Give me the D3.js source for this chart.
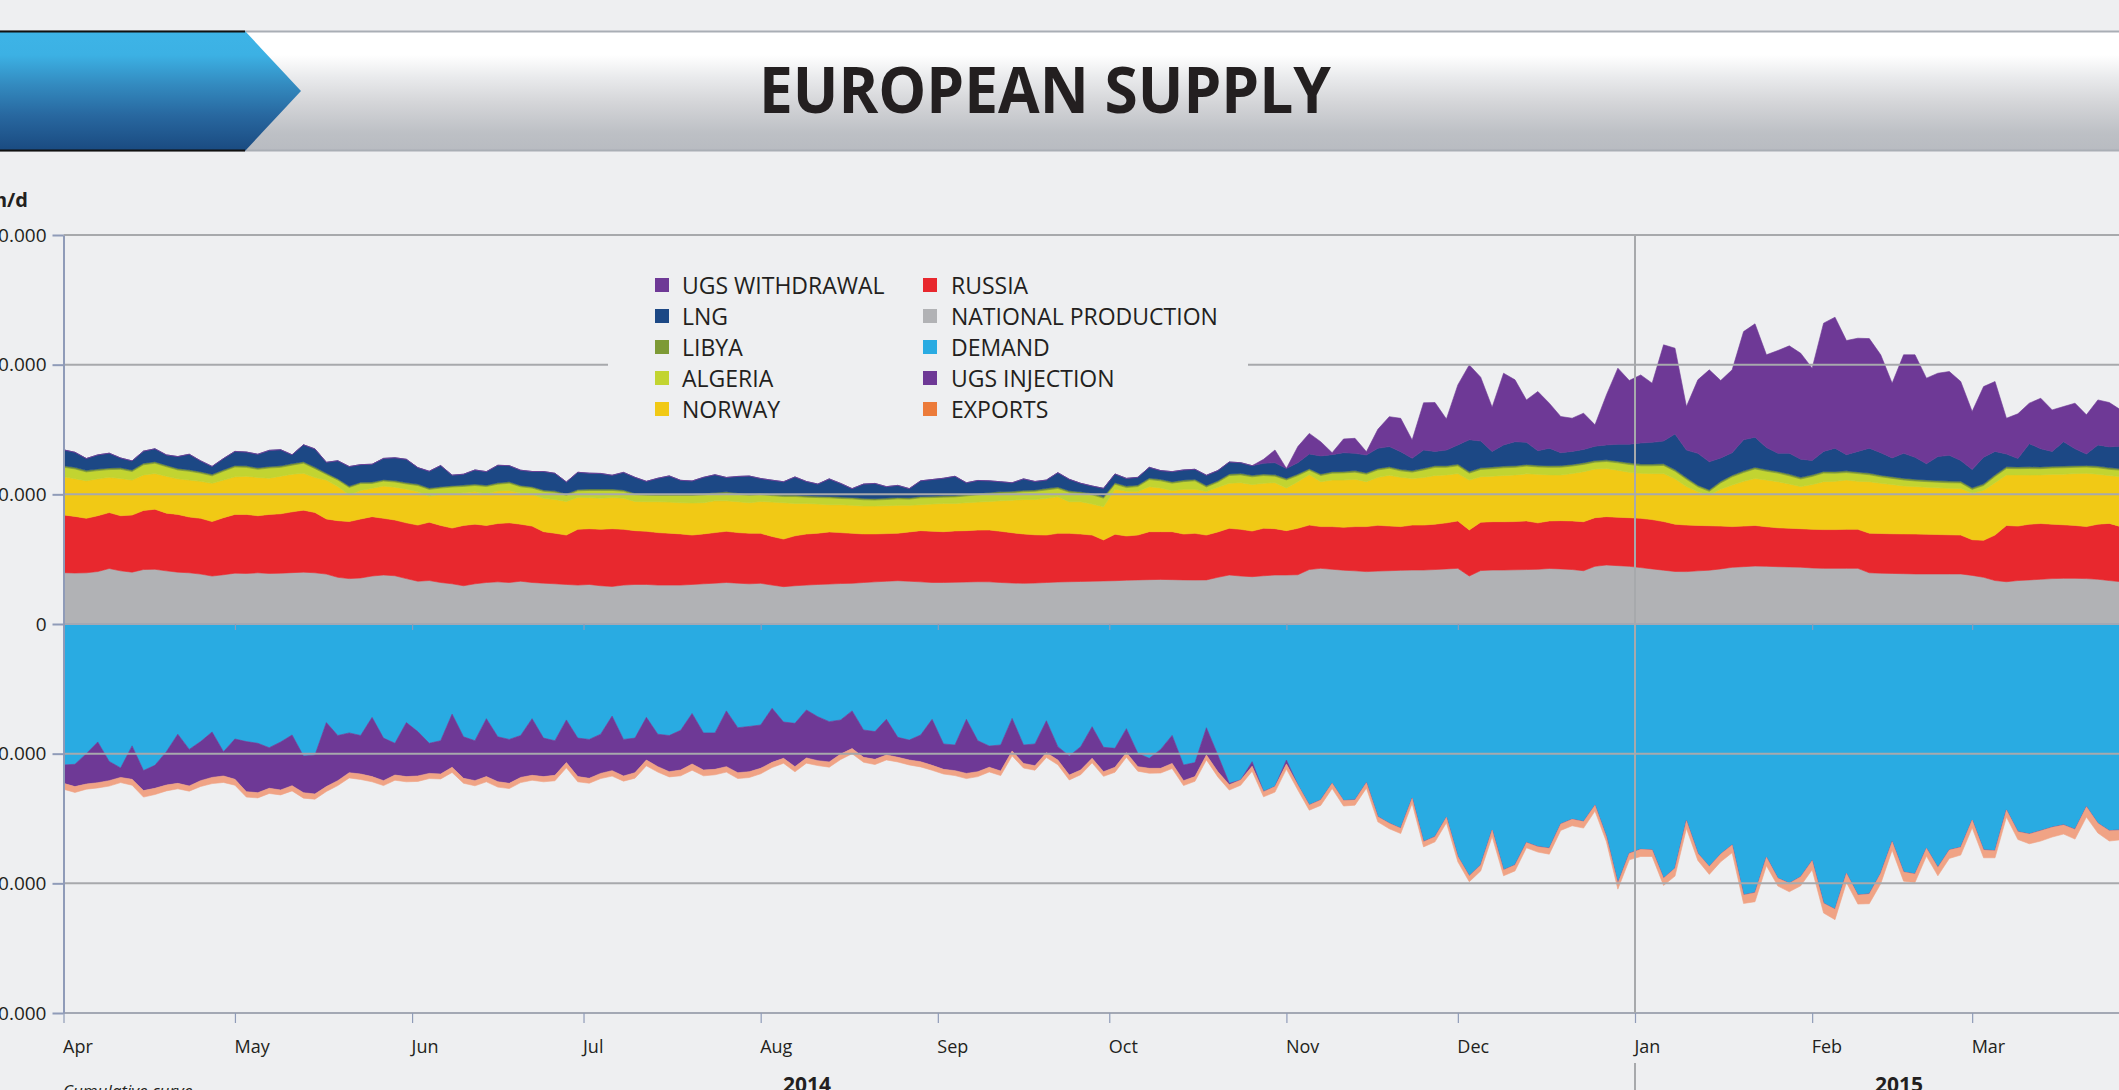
<!DOCTYPE html>
<html><head><meta charset="utf-8">
<script src="https://cdn.jsdelivr.net/npm/d3@7"></script>
<style>
html,body{margin:0;padding:0;background:#eeeff1;overflow:hidden;}
svg{display:block;}
</style></head>
<body>
<svg id="chart" width="2119" height="1090"></svg>
<script>
// ---------------- DATA (thousand units/day, one value every 2 days from 1 Apr 2014) ----------------
const START_DATE = new Date(2014, 3, 1);
const STEP_DAYS = 2;

const nationalProduction = [
3.96,3.93,3.95,4.05,4.28,4.1,4.0,4.2,4.22,4.1, 4.0,3.95,3.85,3.7,3.8,3.92,3.9,3.95,3.9,3.92, 3.96,4.0,3.95,3.85,3.6,3.5,3.55,3.7,3.78,3.72, 3.5,3.3,3.35,3.2,3.1,2.95,3.1,3.2,3.25,3.2, 3.3,3.2,3.15,3.1,3.05,3.0,3.05,2.95,2.9,3.0, 3.05,3.05,3.0,3.0,3.0,3.05,3.1,3.15,3.2,3.15, 3.1,
3.14,3.0,2.88,2.95,3.0,3.05,3.08,3.12,3.14,3.2, 3.25,3.3,3.34,3.3,3.25,3.2,3.2,3.22,3.24,3.26, 3.25,3.2,3.16,3.14,3.16,
3.2,3.24,3.26,3.28,3.3, 3.32,3.34,3.38,3.4,3.42,3.44,3.42,3.4,3.39,3.4, 3.6,3.78,3.7,3.65,3.72,3.78,3.78,3.8,4.2,4.29, 4.22,4.15,4.1,4.04,4.08,4.11,4.14,4.16,
4.16,4.2,4.25,4.29,3.7,4.12,4.16,4.16,4.18,4.2, 4.22,4.28,4.25,4.2,4.11,4.45,4.55,4.5,4.45,4.35, 4.25,4.15,4.05,4.04,4.1,4.15,4.25,4.37,4.42,4.47, 4.45,4.42,4.4,4.38,4.32,4.29,4.29,4.29,4.29,3.95, 3.92,3.9,3.88,3.86,3.86,3.86,3.86,3.86,3.75,3.6, 3.35,3.26,3.35,3.4,3.45,3.5,3.52,3.52,3.5,3.45, 3.35,3.26];

const russia = [
4.45,4.37,4.2,4.3,4.31,4.25,4.4,4.55,4.63,4.45, 4.45,4.3,4.3,4.2,4.4,4.53,4.55,4.4,4.55,4.58, 4.69,4.78,4.65,4.25,4.37,4.4,4.55,4.58,4.37,4.3, 4.3,4.33,4.5,4.4,4.3,4.65,4.6,4.4,4.5,4.6, 4.4,4.35,3.97,3.9,3.81,4.3,4.3,4.35,4.45,4.3, 4.15,4.1,4.05,4.0,3.95,3.81,3.85,3.9,3.95,3.9, 3.9,
3.85,3.75,3.67,3.85,3.94,3.95,4.02,3.93,3.85,3.75, 3.7,3.67,3.66,3.8,3.95,3.95,3.92,3.96,3.96,3.98, 4.0,3.95,3.88,3.8,3.72,
3.66,3.75,3.73,3.66,3.56,3.16,3.58,3.41,3.46,3.7, 3.68,3.7,3.54,3.6,3.46,3.5,3.6,3.6,3.52,3.66, 3.57,3.42,3.58,3.43,3.22,3.29,3.31,3.41,3.47,3.53, 3.45,3.37,3.47,
3.47,3.5,3.55,3.66,3.55,3.73,3.73,3.73,3.72,3.75, 3.58,3.67,3.72,3.75,3.78,3.75,3.73,3.73,3.75,3.8, 3.8,3.75,3.65,3.59,3.5,3.43,3.3,3.14,3.13,3.13, 3.05,3.0,2.98,2.97,2.98,2.99,2.99,3.01,3.01,3.05, 3.06,3.06,3.07,3.08,3.06,3.04,3.02,3.0,2.75,2.85, 3.51,4.34,4.2,4.3,4.3,4.2,4.13,4.08,4.01,4.25, 4.41,4.25];

const norway = [
2.95,2.9,2.9,2.85,2.72,2.88,2.7,2.75,2.75,2.85, 2.75,2.85,2.85,2.95,2.9,2.9,2.95,2.95,2.8,2.9, 2.9,2.84,2.7,3.0,2.63,2.05,2.2,2.18,2.49,2.53, 2.6,2.57,2.0,2.4,2.65,2.53,2.5,2.45,2.5,2.48, 2.4,2.45,2.57,2.6,2.59,2.47,2.4,2.4,2.4,2.4, 2.25,2.28,2.38,2.4,2.4,2.47,2.41,2.45,2.35,2.38, 2.35,
2.46,2.65,2.8,2.5,2.36,2.25,2.1,2.15,2.16,2.15, 2.15,2.15,2.15,2.05,2.0,2.1,2.18,2.12,2.15,2.16, 2.2,2.35,2.51,2.66,2.72,
2.83,2.83,2.44,2.49,2.39,2.57,3.47,3.44,3.35,3.47, 3.37,3.16,3.45,3.4,3.35,3.44,3.47,3.6,3.58,3.47, 3.55,3.29,3.6,3.89,3.47,3.59,3.64,3.65,3.47,3.7, 3.91,3.8,3.6,
3.67,3.75,3.7,3.65,3.85,3.51,3.51,3.56,3.6,3.63, 3.75,3.55,3.52,3.65,3.86,3.75,3.72,3.62,3.5,3.47, 3.55,3.7,3.5,2.97,2.6,2.37,2.85,3.21,3.45,3.63, 3.6,3.56,3.42,3.25,3.45,3.7,3.72,3.8,3.7,3.98, 3.87,3.79,3.7,3.66,3.63,3.6,3.58,3.59,3.6,3.85, 4.04,3.89,3.95,3.79,3.75,3.85,3.9,4.0,4.11,3.85, 3.69,3.85];

const algeria = [
0.73,0.76,0.68,0.63,0.6,0.7,0.66,0.78,0.8,0.73, 0.68,0.68,0.63,0.58,0.68,0.76,0.68,0.63,0.78,0.68, 0.7,0.78,0.68,0.43,0.5,0.58,0.53,0.38,0.38,0.4, 0.4,0.48,0.53,0.48,0.51,0.48,0.48,0.55,0.53,0.58, 0.48,0.48,0.54,0.56,0.48,0.5,0.55,0.6,0.55,0.53, 0.53,0.5,0.48,0.51,0.56,0.58,0.6,0.53,0.58,0.57, 0.58,
0.53,0.5,0.48,0.53,0.48,0.5,0.53,0.48,0.5,0.48, 0.46,0.48,0.5,0.48,0.53,0.5,0.48,0.5,0.53,0.56, 0.58,0.6,0.58,0.6,0.63,
0.65,0.63,0.73,0.65,0.71,0.65,0.39,0.29,0.39,0.55, 0.55,0.58,0.59,0.65,0.36,0.39,0.6,0.6,0.6,0.6, 0.5,0.62,0.47,0.34,0.47,0.53,0.55,0.55,0.57,0.57, 0.54,0.5,0.48,
0.58,0.63,0.58,0.6,0.53,0.56,0.58,0.6,0.58,0.6, 0.56,0.58,0.6,0.58,0.56,0.53,0.53,0.58,0.6,0.58, 0.6,0.63,0.58,0.56,0.38,0.28,0.48,0.63,0.68,0.73, 0.68,0.66,0.63,0.58,0.63,0.66,0.63,0.58,0.6,0.53, 0.5,0.48,0.46,0.43,0.43,0.43,0.43,0.43,0.28,0.38, 0.48,0.5,0.48,0.5,0.48,0.48,0.5,0.48,0.48,0.5, 0.48,0.5];

const libya = [
0.12,0.12,0.12,0.12,0.12,0.12,0.12,0.12,0.12,0.12, 0.12,0.12,0.12,0.12,0.12,0.12,0.12,0.12,0.12,0.12, 0.12,0.12,0.12,0.11,0.11,0.11,0.11,0.11,0.11,0.11, 0.11,0.11,0.11,0.11,0.11,0.11,0.11,0.11,0.11,0.11, 0.11,0.11,0.11,0.11,0.11,0.11,0.11,0.11,0.11,0.11, 0.11,0.11,0.11,0.11,0.11,0.11,0.11,0.11,0.11,0.11, 0.11,
0.11,0.11,0.11,0.11,0.11,0.11,0.11,0.11,0.11,0.11, 0.11,0.11,0.11,0.11,0.11,0.11,0.11,0.11,0.11,0.11, 0.11,0.11,0.11,0.11,0.11,
0.12,0.12,0.12,0.12,0.12,0.12,0.12,0.12,0.12,0.12, 0.12,0.12,0.12,0.12,0.12,0.12,0.12,0.12,0.12,0.12, 0.12,0.12,0.12,0.12,0.12,0.12,0.12,0.12,0.12,0.12, 0.12,0.12,0.12,
0.13,0.13,0.13,0.13,0.13,0.13,0.13,0.13,0.13,0.13, 0.13,0.13,0.13,0.13,0.13,0.13,0.13,0.13,0.13,0.13, 0.13,0.13,0.13,0.13,0.13,0.13,0.13,0.13,0.13,0.13, 0.13,0.13,0.13,0.13,0.13,0.13,0.13,0.13,0.13,0.13, 0.13,0.13,0.13,0.13,0.13,0.13,0.13,0.13,0.13,0.13, 0.13,0.13,0.13,0.13,0.13,0.13,0.13,0.13,0.13,0.13, 0.13,0.13];

const lng = [
1.22,1.16,0.91,1.09,1.14,0.75,0.7,0.93,0.99,0.79, 0.91,1.19,0.83,0.6,0.86,1.08,1.06,1.04,1.24,1.24, 0.68,1.3,1.4,0.83,1.38,1.5,1.35,1.37,1.64,1.76, 1.79,1.27,1.29,1.63,0.81,0.83,1.09,1.04,1.35,1.24, 1.17,1.17,1.42,1.35,0.91,1.32,1.22,1.2,1.06,1.35, 1.22,0.96,1.22,1.4,1.06,1.01,1.24,1.37,1.11,1.27, 1.37,
1.13,1.08,1.03,1.4,1.1,0.93,1.35,1.05,0.68,1.1, 1.17,0.88,0.93,0.7,1.2,1.28,1.35,1.48,0.9,1.0, 0.9,0.76,0.65,0.88,0.65,
0.64,1.1,0.88,0.65,0.56,0.64,0.67,0.59,0.59,0.82, 0.67,0.77,0.78,0.77,0.78,0.78,0.92,0.82,0.74,0.82, 0.92,0.77,0.87,1.13,1.39,1.31,1.44,1.33,1.36,1.55, 1.55,1.36,0.95,
1.4,1.1,1.2,1.48,2.45,2.06,1.2,1.63,1.85,1.7, 1.12,1.35,0.99,1.0,1.02,1.1,1.15,1.3,1.43,1.63, 1.68,1.75,2.75,2.12,2.45,2.15,1.8,1.73,2.4,2.32, 1.7,1.4,1.61,1.4,1.1,1.54,1.8,1.25,1.58,1.92, 1.73,1.45,1.92,1.7,1.25,1.85,1.99,1.6,1.4,2.05, 1.8,0.99,0.65,1.79,1.4,1.15,1.88,1.3,0.88,1.63, 1.6,1.72];

const ugsWithdrawal = [
0,0,0,0,0,0,0,0,0,0, 0,0,0,0,0,0,0,0,0,0, 0,0,0,0,0,0,0,0,0,0, 0,0,0,0,0,0,0,0,0,0, 0,0,0,0,0,0,0,0,0,0, 0,0,0,0,0,0,0,0,0,0, 0,
0,0,0,0,0,0,0,0,0,0, 0,0,0,0,0,0,0,0,0,0, 0,0,0,0,0,0,0,0,0,0, 0,0,0,0,0,0,0,0,0,0, 0,0,0,0,
0.31,0.98,0,1.24,1.59,1.1,0.15,1.06,1.16,0.26,1.46,2.31,2.57,1.41,
3.65,3.77,2.4,4.63,5.77,4.92,3.41,5.53,4.77,3.27, 4.57,3.47,2.79,2.56,2.8,1.65,3.86,5.87,4.92,5.25, 4.56,7.42,6.61,3.36,5.67,7.09,5.97,6.39,8.34,8.74, 7.15,7.92,8.28,8.17,7.12,9.89,10.1,8.8,8.73,8.45, 7.55,5.76,7.6,7.9,6.6,6.43,6.46,6.09,4.48,5.45, 5.39,2.76,3.45,3.12,3.9,3.2,2.71,3.52,3.02,3.47, 3.42,2.8];

const demand = [
10.87,10.82,10.0,9.1,10.6,11.1,9.4,11.3,10.9,9.85, 8.5,9.67,9.07,8.33,9.85,8.87,9.07,9.2,9.54,9.1, 8.56,10.18,10.1,7.6,8.6,8.4,8.6,7.2,8.8,9.2, 7.6,8.3,9.2,9.0,6.95,8.7,9.0,7.3,8.7,8.9, 8.6,7.3,8.8,9.0,7.4,8.8,8.9,8.5,7.1,8.9, 8.8,7.2,8.5,8.6,8.2,6.9,8.4,8.4,6.7,8.0, 7.9,
7.79,6.5,7.56,7.66,6.63,7.15,7.53,7.4,6.7,8.17, 8.3,7.35,8.74,8.95,8.56,7.35,9.25,9.33,7.35,9.0, 9.41,9.33,7.28,9.33,9.25,7.46,9.46,10.18,9.46,7.92, 9.51,9.59,8.07,9.97,10.36,9.67,8.59,10.87,10.69,8.0, 10.1,12.29,12.03,10.62,12.93,12.54,10.49,12.42,13.96,13.57, 12.29,13.62,13.57,12.24,14.86,15.37,15.76,13.44,
16.79,16.4,14.91,17.94,19.43,18.59,15.89,18.97,18.59,16.86, 17.17,17.3,15.42,15.06,15.24,13.98,16.4,20.0,17.69,17.38, 17.43,19.61,18.84,15.17,17.69,18.71,17.74,17.04,20.9,20.72, 17.99,19.61,20.0,19.49,18.25,21.54,22.0,19.23,20.9,20.82, 19.23,16.79,19.13,19.28,17.3,18.77,17.43,17.22,15.12,17.43, 17.48,14.34,16.02,16.2,15.94,15.68,15.5,15.84,14.09,15.37, 15.94,15.89];

const ugsInjection = [
1.42,1.72,2.34,3.14,1.48,0.73,2.58,1.55,1.77,2.57, 3.79,2.82,3.01,3.5,1.87,3.11,3.86,3.81,3.13,3.7, 3.91,2.83,3.01,4.94,3.48,3.07,2.97,4.57,3.28,2.45, 4.17,3.42,2.32,2.57,4.1,3.2,3.08,4.47,3.46,3.39, 3.23,4.37,2.97,2.67,3.29,2.97,3.0,3.02,4.21,2.82, 2.67,3.29,2.5,2.79,3.06,3.9,2.86,2.81,4.3,3.47, 3.49,
3.34,4.17,2.8,3.34,3.7,3.39,3.11,2.63,2.91,2.11, 2.14,2.75,1.54,1.54,2.06,3.55,1.96,1.98,4.17,2.39, 1.64,2.01,2.51,1.42,1.68,2.46,1.03,1.47,1.8,2.44, 1.88,1.46,1.85,1.03,0.77,1.46,2.16,1.21,1.08,2.1, 1.29,
0.1,0,0.35,0,0,0.3,0,0,0,0, 0,0,0,0,0,0,0,
0,0,0,0,0,0,0,0,0,0, 0,0,0,0,0,0,0,0,0,0, 0,0,0,0,0,0,0,0,0,0, 0,0,0,0,0,0,0,0,0,0, 0,0,0,0,0,0,0,0,0,0, 0,0,0,0,0,0,0,0,0,0, 0,0];

const exportsFlow = [
0.45,0.45,0.4,0.4,0.42,0.4,0.45,0.5,0.48,0.45, 0.42,0.4,0.45,0.48,0.5,0.45,0.42,0.4,0.4,0.38, 0.4,0.42,0.4,0.38,0.38,0.4,0.42,0.4,0.38,0.4, 0.4,0.42,0.4,0.38,0.4,0.38,0.4,0.4,0.42,0.4, 0.4,0.38,0.4,0.42,0.4,0.4,0.38,0.4,0.42,0.4, 0.42,0.45,0.42,0.4,0.45,0.48,0.45,0.42,0.42,0.45, 0.45,
0.42,0.4,0.38,0.4,0.4,0.38,0.4,0.42,0.4,0.38, 0.4,0.38,0.36,0.38,0.4,0.38,0.36,0.38,0.4,0.38, 0.36,0.35,0.38,0.36,0.35,0.38,0.36,0.38,0.36,0.35, 0.36,0.38,0.36,0.35,0.38,0.36,0.4,0.38,0.36,0.38, 0.4,0.42,0.4,0.38,0.4,0.42,0.4,0.38,0.4,0.42, 0.4,0.42,0.4,0.42,0.4,0.42,0.4,0.4,
0.4,0.4,0.42,0.4,0.45,0.45,0.5,0.45,0.45,0.4,0.42,0.45,
0.5,0.5,0.5,0.45,0.4,0.45,0.5,0.55,0.5,0.55,0.6,0.6,0.55,0.6,0.6,
0.6,0.65,0.7,0.65,0.6,0.65,0.7,0.7,0.75,0.8,0.7,0.7,0.75,0.8,0.65,
0.7,0.65,0.6,0.65,0.65,0.6,0.6,0.6,0.55,0.55,0.6,0.75,0.8,0.75,0.7,0.75,0.8,0.75,0.8,0.75];

const yTickValues = [30, 20, 10, 0, -10, -20, -30];
const yTickLabels = ["30.000", "20.000", "10.000", "0", "-10.000", "-20.000", "-30.000"];
const monthLabels = ["Apr","May","Jun","Jul","Aug","Sep","Oct","Nov","Dec","Jan","Feb","Mar"];
const yearLabels = ["2014", "2015"];
const unitLabel = "mcm/d";
const titleText = "EUROPEAN SUPPLY";

const legendCol1 = [["UGS WITHDRAWAL","#6e3996"],["LNG","#1c4885"],["LIBYA","#7d9a36"],["ALGERIA","#c2d431"],["NORWAY","#f1c915"]];
const legendCol2 = [["RUSSIA","#e8282e"],["NATIONAL PRODUCTION","#b1b2b5"],["DEMAND","#29abe2"],["UGS INJECTION","#6e3996"],["EXPORTS","#ec7b3a"]];

// ---------------- BUILD ----------------
const W = 2119, H = 1090;
const svg = d3.select('#chart');
const FONT = "'Open Sans', 'Liberation Sans', sans-serif";
const INK = '#231f20';

const dates = d3.range(nationalProduction.length).map(i => d3.timeDay.offset(START_DATE, i * STEP_DAYS));
const rows = dates.map((d, i) => ({
  date: d,
  NP: nationalProduction[i], RU: russia[i], NO: norway[i], DZ: algeria[i], LY: libya[i],
  LNG: lng[i], WD: ugsWithdrawal[i],
  DEM: -demand[i], INJ: -ugsInjection[i], EXP: -exportsFlow[i]
}));

const x = d3.scaleTime().domain([new Date(2014, 3, 1), new Date(2015, 0, 1)]).range([63.5, 1635]);
const y = d3.scaleLinear().domain([-30, 30]).range([1013, 235]);

// header
const defs = svg.append('defs');
const hg = defs.append('linearGradient').attr('id', 'hdr').attr('x1', 0).attr('y1', 0).attr('x2', 0).attr('y2', 1);
[[0,'#ffffff'],[0.2,'#ffffff'],[0.38,'#eaebed'],[0.6,'#d4d5d8'],[0.85,'#bdc0c5'],[1,'#b8bbc1']]
  .forEach(([o, c]) => hg.append('stop').attr('offset', o).attr('stop-color', c));
const bg = defs.append('linearGradient').attr('id', 'blu').attr('x1', 0).attr('y1', 0).attr('x2', 0).attr('y2', 1);
[[0,'#3db4e7'],[0.2,'#3cb1e4'],[0.45,'#338abf'],[0.7,'#2868a0'],[1,'#1a4a80']]
  .forEach(([o, c]) => bg.append('stop').attr('offset', o).attr('stop-color', c));

svg.append('rect').attr('x', 0).attr('y', 31).attr('width', W).attr('height', 120).attr('fill', 'url(#hdr)');
svg.append('line').attr('x1', 0).attr('x2', W).attr('y1', 31.5).attr('y2', 31.5).attr('stroke', '#a9aeb5').attr('stroke-width', 2);
svg.append('line').attr('x1', 0).attr('x2', W).attr('y1', 150.5).attr('y2', 150.5).attr('stroke', '#a9aeb5').attr('stroke-width', 2);
svg.append('polygon').attr('points', '0,31 245,31 301,91 245,151 0,151').attr('fill', 'url(#blu)');
svg.append('line').attr('x1', 0).attr('x2', 245).attr('y1', 31.5).attr('y2', 31.5).attr('stroke', '#111').attr('stroke-width', 2);
svg.append('line').attr('x1', 0).attr('x2', 245).attr('y1', 150.5).attr('y2', 150.5).attr('stroke', '#111').attr('stroke-width', 2);
svg.append('text').attr('x', 759).attr('y', 113).text(titleText)
  .attr('font-family', FONT).attr('font-weight', 700).attr('font-size', 64).attr('fill', INK)
  .attr('textLength', 572).attr('lengthAdjust', 'spacingAndGlyphs');

// areas
svg.append('clipPath').attr('id', 'plotclip').append('rect')
  .attr('x', 63.5).attr('y', 235).attr('width', W - 63.5).attr('height', 778);

const posKeys = ['NP','RU','NO','DZ','LY','LNG','WD'];
const negKeys = ['DEM','INJ','EXP'];
const colors = {NP:'#b1b2b5', RU:'#e8282e', NO:'#f1c915', DZ:'#c2d431', LY:'#7a9535', LNG:'#1c4885', WD:'#6e3996',
                DEM:'#29abe2', INJ:'#6e3996', EXP:'#f0a385'};
const posStack = d3.stack().keys(posKeys)(rows);
const negStack = d3.stack().keys(negKeys)(rows);
const area = d3.area().x(d => x(d.data.date)).y0(d => y(d[0])).y1(d => y(d[1]));

const plot = svg.append('g').attr('clip-path', 'url(#plotclip)');
plot.selectAll('path.pos').data(posStack).join('path').attr('class', 'pos')
  .attr('d', area).attr('fill', d => colors[d.key]).attr('stroke', d => colors[d.key]).attr('stroke-width', 0.6);
plot.selectAll('path.neg').data(negStack).join('path').attr('class', 'neg')
  .attr('d', area).attr('fill', d => colors[d.key]).attr('stroke', d => colors[d.key]).attr('stroke-width', 0.6);

// gridlines (over areas)
svg.append('g').selectAll('line').data(yTickValues.filter(v => v !== 0)).join('line')
  .attr('x1', 63.5).attr('x2', W).attr('y1', d => y(d)).attr('y2', d => y(d))
  .attr('stroke', '#a7a9ac').attr('stroke-width', 2);

// zero axis with small ticks
const months = d3.timeMonth.range(new Date(2014, 3, 1), new Date(2015, 3, 1));
svg.append('line').attr('x1', 63.5).attr('x2', W).attr('y1', y(0)).attr('y2', y(0)).attr('stroke', '#a3a8b4').attr('stroke-width', 2);
const gz = svg.append('g').attr('transform', `translate(0,${y(0)})`)
  .call(d3.axisBottom(x).tickValues(months).tickSize(6).tickFormat(''));
gz.select('.domain').remove();
gz.selectAll('.tick line').attr('stroke', '#8f9bb8').attr('stroke-width', 1.2);

// bottom axis
svg.append('line').attr('x1', 63.5).attr('x2', W).attr('y1', y(-30)).attr('y2', y(-30)).attr('stroke', '#a3a8b4').attr('stroke-width', 2);
const gx = svg.append('g').attr('transform', `translate(0,${y(-30)})`)
  .call(d3.axisBottom(x).tickValues(months).tickSize(10).tickFormat((d, i) => monthLabels[i]));
gx.select('.domain').remove();
gx.attr('font-family', FONT).attr('font-size', 18);
gx.selectAll('.tick line').attr('stroke', '#8f9bb8').attr('stroke-width', 1.2);
gx.selectAll('.tick text').attr('text-anchor', 'start').attr('x', -1).attr('y', 40).attr('dy', 0).attr('fill', INK);

// y axis
const gy = svg.append('g').attr('transform', 'translate(63.5,0)')
  .call(d3.axisLeft(y).tickValues(yTickValues).tickFormat((d, i) => yTickLabels[i]).tickSizeInner(11).tickSizeOuter(0).tickPadding(6));
gy.attr('font-family', FONT).attr('font-size', 19);
gy.select('.domain').attr('stroke', '#8f9bb8').attr('stroke-width', 2);
gy.selectAll('.tick line').attr('stroke', '#8f9bb8').attr('stroke-width', 2);
gy.selectAll('.tick text').attr('fill', INK);

svg.append('text').attr('x', 28).attr('y', 207).attr('text-anchor', 'end').text(unitLabel)
  .attr('font-family', FONT).attr('font-weight', 700).attr('font-size', 20).attr('fill', INK);

// January separator
const xJan = x(new Date(2015, 0, 1));
svg.append('line').attr('x1', xJan).attr('x2', xJan).attr('y1', 235).attr('y2', 1013).attr('stroke', '#a7a9ac').attr('stroke-width', 2);
svg.append('line').attr('x1', xJan).attr('x2', xJan).attr('y1', 1063).attr('y2', H).attr('stroke', '#a7a9ac').attr('stroke-width', 2);

// year labels and footer
svg.append('text').attr('x', 807).attr('y', 1092).attr('text-anchor', 'middle').text(yearLabels[0])
  .attr('font-family', FONT).attr('font-weight', 700).attr('font-size', 21).attr('fill', INK);
svg.append('text').attr('x', 1899).attr('y', 1092).attr('text-anchor', 'middle').text(yearLabels[1])
  .attr('font-family', FONT).attr('font-weight', 700).attr('font-size', 21).attr('fill', INK);
svg.append('text').attr('x', 63).attr('y', 1097).text('Cumulative curve')
  .attr('font-family', FONT).attr('font-style', 'italic').attr('font-size', 17).attr('fill', INK);

// legend
svg.append('rect').attr('x', 608).attr('y', 262).attr('width', 640).attr('height', 168).attr('fill', '#eeeff1');
const rowsY = [285, 316, 347, 378, 409];
function legendCol(items, sx, tx) {
  const g = svg.append('g');
  items.forEach(([label, col], i) => {
    g.append('rect').attr('x', sx).attr('y', rowsY[i] - 7).attr('width', 14).attr('height', 14).attr('fill', col);
    g.append('text').attr('x', tx).attr('y', rowsY[i] + 8.5).text(label)
      .attr('font-family', FONT).attr('font-size', 23).attr('fill', INK);
  });
}
legendCol(legendCol1, 655, 682);
legendCol(legendCol2, 923, 951);
</script>
</body></html>
